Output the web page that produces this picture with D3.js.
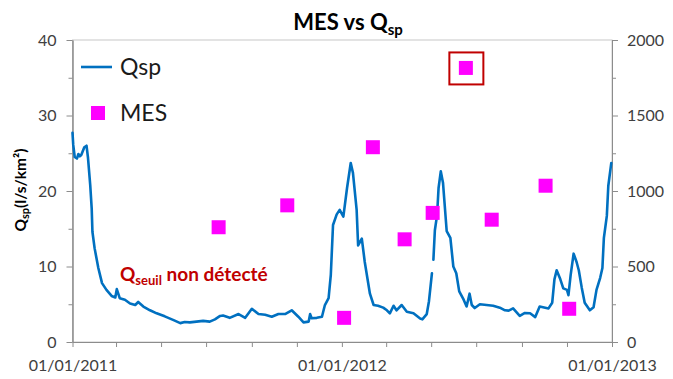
<!DOCTYPE html>
<html>
<head>
<meta charset="utf-8">
<script src="https://cdn.jsdelivr.net/npm/d3@7"></script>
<style>
  body { margin: 0; background: #fff; }
  svg { display: block; font-family: Lato, "Open Sans", sans-serif; }
</style>
</head>
<body>
<svg id="chart" width="673" height="379"></svg>
<script>
// Period shown on the time axis
const startDate = "2011-01-01";
const endDate = "2013-01-01";

// Specific discharge Qsp (l/s/km²), days counted from startDate; null = missing data
const qspDayOffsets = [0, 1, 3, 6, 8, 10, 12, 16, 19, 21, 24, 26, 27, 30, 35, 40, 46, 53, 58, 60,
  62, 64, 71, 78, 85, 89, 96, 105, 114, 125, 137, 146, 152, 159, 168, 177, 186, 193, 200, 204,
  213, 225, 234, 243, 252, 261, 270, 279, 288, 297, 306, 313, 320, 322, 324, 331, 338, 342, 347, 350,
  353, 358, 362, 367, 372, 377, 380, 385, 387, 392, 396, 403, 408, 414, 421, 426, 430, 435, 439, 446,
  453, 462, 471, 474, 480, 483, 487, 488, 489, 491, 494, 496, 499, 502, 507, 512, 516, 520, 524, 530,
  534, 538, 541, 545, 552, 561, 570, 579, 586, 591, 597, 606, 613, 620, 627, 633, 645, 650, 653, 656,
  661, 665, 670, 672, 675, 679, 683, 686, 690, 694, 701, 706, 710, 715, 718, 720, 724, 726, 730];
const qspValues = [27.7, 26.1, 24.5, 24.3, 24.9, 24.6, 24.8, 25.8, 26.0, 24.4, 20.8, 17.7, 14.6, 12.4, 9.8, 7.8, 6.9, 6.1, 5.9, 7.0,
  6.4, 5.8, 5.6, 5.1, 4.9, 5.3, 4.7, 4.2, 3.8, 3.4, 2.9, 2.5, 2.65, 2.6, 2.7, 2.8, 2.7, 3.0, 3.45, 3.5,
  3.2, 3.7, 3.2, 4.4, 3.7, 3.6, 3.35, 3.7, 3.7, 4.2, 3.35, 2.6, 2.7, 3.7, 3.15, 3.2, 3.35, 4.9, 5.8, 8.9,
  15.5, 16.9, 17.5, 16.6, 20.4, 23.7, 22.4, 17.5, 12.8, 13.7, 10.6, 6.4, 4.9, 4.8, 4.55, 4.2, 3.8, 4.8, 4.2, 4.9,
  4.0, 3.8, 3.1, 3.0, 3.7, 5.4, 9.1, null, 10.9, 14.8, 16.8, 20.4, 22.6, 21.1, 14.7, 13.8, 10.0, 9.1, 6.7, 5.6,
  4.7, 6.4, 4.9, 4.5, 5.0, 4.9, 4.8, 4.55, 4.2, 4.15, 4.45, 3.45, 3.85, 3.8, 3.3, 4.7, 4.45, 5.2, 8.3, 9.5,
  8.3, 7.1, 6.9, 6.2, 8.9, 11.7, 10.6, 9.5, 7.2, 5.2, 4.2, 4.6, 6.9, 8.5, 9.8, 13.8, 16.7, 20.7, 23.7];

// Suspended matter MES (mg/l) samples, days counted from startDate
const mesDayOffsets = [198, 291, 368, 407, 450, 488, 533, 568, 641, 673];
const mesValues = [760, 905, 160, 1290, 680, 855, 1815, 810, 1035, 220];

// Sample highlighted with a frame
const highlightedMesIndex = 6;

// Axis ticks
const leftTicks = [0, 10, 20, 30, 40];
const leftMinorTicks = [5, 15, 25, 35];
const rightTicks = [0, 500, 1000, 1500, 2000];
const rightMinorTicks = [250, 750, 1250, 1750];
const xTickLabels = ["01/01/2011", "01/01/2012", "01/01/2013"];

const svg = d3.select("#chart");
const margin = { left: 72.5, right: 612, top: 40, bottom: 342 };
const axisColor = "#8c8c8c";
const labelColor = "#404040";

const parse = d3.utcParse("%Y-%m-%d");
const t0 = parse(startDate), t1 = parse(endDate);
const dayToDate = k => d3.utcDay.offset(t0, k);

const x = d3.scaleUtc().domain([t0, t1]).range([margin.left, margin.right]);
const yL = d3.scaleLinear().domain([0, 40]).range([margin.bottom, margin.top]);
const yR = d3.scaleLinear().domain([0, 2000]).range([margin.bottom, margin.top]);

// Plot-area frame
svg.append("rect")
  .attr("x", margin.left).attr("y", margin.top)
  .attr("width", margin.right - margin.left).attr("height", margin.bottom - margin.top)
  .attr("fill", "none").attr("stroke", "#c8c8c8").attr("stroke-width", 1);

function styleAxis(g) {
  g.select(".domain").attr("stroke", axisColor);
  g.selectAll(".tick line").attr("stroke", axisColor);
  g.selectAll(".tick text").attr("fill", labelColor).attr("font-size", 16)
    .attr("font-family", "Lato, 'Open Sans', sans-serif");
}

// Left axis
svg.append("g").attr("transform", `translate(${margin.left},0)`)
  .call(d3.axisLeft(yL).tickValues(leftMinorTicks).tickFormat("").tickSize(4).tickSizeOuter(0))
  .call(styleAxis);
svg.append("g").attr("transform", `translate(${margin.left},0)`)
  .call(d3.axisLeft(yL).tickValues(leftTicks).tickFormat(d3.format("d")).tickSize(6).tickSizeOuter(0).tickPadding(10))
  .call(styleAxis);

// Right axis
svg.append("g").attr("transform", `translate(${margin.right},0)`)
  .call(d3.axisRight(yR).tickValues(rightMinorTicks).tickFormat("").tickSize(4).tickSizeOuter(0))
  .call(styleAxis);
svg.append("g").attr("transform", `translate(${margin.right},0)`)
  .call(d3.axisRight(yR).tickValues(rightTicks).tickFormat(d3.format("d")).tickSize(6).tickSizeOuter(0).tickPadding(9))
  .call(styleAxis);

// Bottom axis: tick every two months, label each January
const xTicks = d3.utcMonth.every(2).range(t0, d3.utcDay.offset(t1, 1));
const januaries = xTicks.filter(d => d.getUTCMonth() === 0);
svg.append("g").attr("transform", `translate(0,${margin.bottom})`)
  .call(d3.axisBottom(x).tickValues(xTicks)
    .tickFormat(d => { const i = januaries.findIndex(j => +j === +d); return i >= 0 ? xTickLabels[i] : ""; })
    .tickSize(5).tickSizeOuter(0).tickPadding(13))
  .call(styleAxis);

// Qsp line
const qspData = qspDayOffsets.map((k, i) => ({ date: dayToDate(k), value: qspValues[i] }));
const line = d3.line()
  .defined(d => d.value !== null)
  .x(d => x(d.date)).y(d => yL(d.value))
  .curve(d3.curveLinear);
svg.append("path").datum(qspData)
  .attr("d", line)
  .attr("fill", "none").attr("stroke", "#0070c0")
  .attr("stroke-width", 2.6).attr("stroke-linejoin", "round").attr("stroke-linecap", "round");

// MES markers
const markerSize = 14;
const mesData = mesDayOffsets.map((k, i) => ({ date: dayToDate(k), value: mesValues[i] }));
svg.append("g").selectAll("rect").data(mesData).join("rect")
  .attr("x", d => x(d.date) - markerSize / 2)
  .attr("y", d => yR(d.value) - markerSize / 2)
  .attr("width", markerSize).attr("height", markerSize)
  .attr("fill", "#ff00ff");

// Frame around the highlighted sample
const hl = mesData[highlightedMesIndex];
svg.append("rect")
  .attr("x", x(hl.date) - 16.5).attr("y", yR(hl.value) - 15.5)
  .attr("width", 34).attr("height", 32)
  .attr("fill", "none").attr("stroke", "#c00000").attr("stroke-width", 2);

// Title
const title = svg.append("text")
  .attr("x", 348).attr("y", 30).attr("text-anchor", "middle")
  .attr("font-size", 22).attr("font-weight", "bold").attr("fill", "#000");
title.append("tspan").text("MES vs Q");
title.append("tspan").attr("dy", 5).attr("font-size", 15).text("sp");

// Left axis title
const yTitle = svg.append("text")
  .attr("transform", "translate(26,190) rotate(-90)")
  .attr("text-anchor", "middle").attr("font-size", 15.5).attr("font-weight", "bold").attr("fill", "#000");
yTitle.append("tspan").text("Q");
yTitle.append("tspan").attr("dy", 3).attr("font-size", 11).text("sp");
yTitle.append("tspan").attr("dy", -3).text("(l/s/km²)");

// Legend
const legend = svg.append("g");
legend.append("line")
  .attr("x1", 81).attr("x2", 112).attr("y1", 67).attr("y2", 67)
  .attr("stroke", "#0070c0").attr("stroke-width", 2.6);
legend.append("text").attr("x", 120).attr("y", 75)
  .attr("font-size", 23).attr("fill", "#1a1a1a").text("Qsp");
legend.append("rect")
  .attr("x", 98 - markerSize / 2).attr("y", 113 - markerSize / 2)
  .attr("width", markerSize).attr("height", markerSize).attr("fill", "#ff00ff");
legend.append("text").attr("x", 120).attr("y", 121)
  .attr("font-size", 23).attr("fill", "#1a1a1a").text("MES");

// Annotation
const note = svg.append("text")
  .attr("x", 120).attr("y", 281)
  .attr("font-size", 19).attr("font-weight", "bold").attr("fill", "#c00000");
note.append("tspan").text("Q");
note.append("tspan").attr("dy", 4).attr("font-size", 13).text("seuil");
note.append("tspan").attr("dy", -4).text(" non détecté");
</script>
</body>
</html>
